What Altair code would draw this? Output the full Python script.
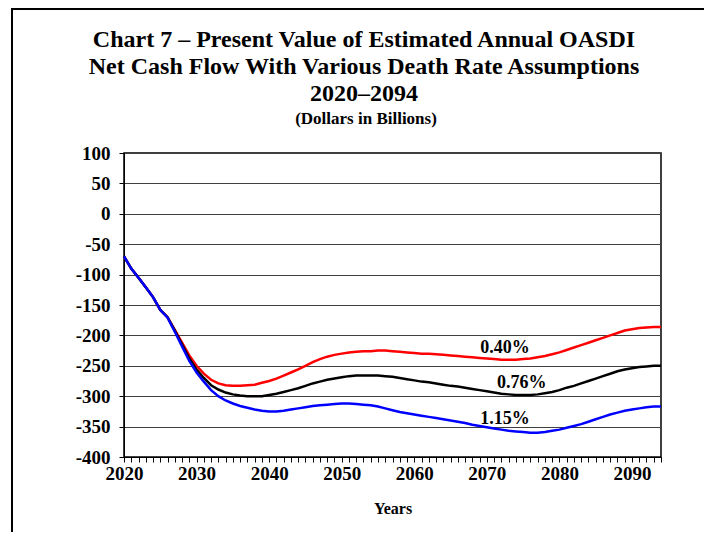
import altair as alt
import pandas as pd

years = list(range(2020, 2095))

red_040 = [
    -70, -90, -105, -121, -137, -158, -170, -191, -212, -233,
    -250, -263, -273, -279, -282, -283, -283, -282, -281, -278,
    -275, -271, -266, -261, -256, -250, -244, -239, -235, -232,
    -230, -228, -227, -226, -226, -225, -225, -226, -227, -228,
    -229, -230, -230, -231, -232, -233, -234, -235, -236, -237,
    -238, -239, -240, -240, -240, -239, -238, -236, -234, -231,
    -228, -224, -220, -216, -212, -208, -204, -200, -196, -192,
    -190, -188, -187, -186, -186,
]

black_076 = [
    -70, -90, -105, -121, -137, -158, -170, -192, -215, -238,
    -256, -270, -282, -289, -294, -297, -299, -300, -300, -300,
    -298, -296, -293, -290, -287, -283, -279, -276, -273, -271,
    -269, -267, -266, -266, -266, -266, -267, -268, -270, -272,
    -274, -276, -277, -279, -281, -283, -284, -286, -288, -290,
    -292, -294, -296, -297, -298, -298, -298, -297, -295, -293,
    -290, -286, -283, -279, -275, -271, -267, -263, -259, -256,
    -254, -252, -251, -250, -250,
]

blue_115 = [
    -70, -90, -105, -121, -137, -158, -171, -194, -218, -242,
    -261, -276, -290, -300, -307, -312, -316, -319, -322, -324,
    -325, -325, -324, -322, -320, -318, -316, -315, -314, -313,
    -312, -312, -313, -314, -315, -317, -320, -323, -326, -328,
    -330, -332, -334, -336, -338, -340, -342, -344, -347, -349,
    -351, -353, -355, -357, -358, -359, -360, -360, -359, -357,
    -355, -352, -349, -346, -342, -338, -334, -330, -327, -324,
    -322, -320, -318, -317, -317,
]

series_names = ["0.40%", "0.76%", "1.15%"]
series_colors = ["#FF0000", "#000000", "#0000FF"]

label_years = [2072.5, 2074.8, 2072.5]
label_values = [-221, -279, -337]

title_lines = [
    "Chart 7 \u2013 Present Value of Estimated Annual OASDI",
    "Net Cash Flow With Various Death Rate Assumptions",
    "2020\u20132094",
]
subtitle = "(Dollars in Billions)"
x_title = "Years"
y_ticks = list(range(-400, 101, 50))

FONT = "Liberation Serif"

rows = []
for name, vals in zip(series_names, [red_040, black_076, blue_115]):
    for y, v in zip(years, vals):
        rows.append({"year": y, "value": v, "series": name})
df = pd.DataFrame(rows)

x_scale = alt.Scale(domain=[2020, 2094], nice=False, zero=False)
y_scale = alt.Scale(domain=[-400, 100], nice=False)

x_axis = alt.Axis(values=years,
                  labelExpr="datum.value % 10 == 0 ? '' + datum.value : ''",
                  grid=False, tickSize=5, tickColor="black",
                  domainColor="black", labelFont=FONT, labelFontSize=19,
                  labelFontWeight="bold", labelColor="black",
                  labelPadding=2, labelFlush=False, labelOverlap=False,
                  labelBound=False,
                  title=x_title, titleFont=FONT, titleFontSize=16,
                  titleFontWeight="bold", titleColor="black",
                  titlePadding=17)
y_axis = alt.Axis(values=y_ticks, labelExpr="'' + datum.value",
                  grid=True, gridColor="#404040", gridWidth=1,
                  tickSize=5, tickColor="black", domainColor="black",
                  labelFont=FONT, labelFontSize=19, labelFontWeight="bold",
                  labelColor="black", labelPadding=9, labelOverlap=False,
                  labelBound=False, labelFlush=False, title=None)

lines = alt.Chart(df).mark_line(strokeWidth=2.5).encode(
    x=alt.X("year:Q", scale=x_scale, axis=x_axis),
    y=alt.Y("value:Q", scale=y_scale, axis=y_axis),
    color=alt.Color("series:N",
                    scale=alt.Scale(domain=series_names, range=series_colors),
                    legend=None),
)

lab_df = pd.DataFrame({"year": label_years, "value": label_values,
                       "label": series_names})
labels = alt.Chart(lab_df).mark_text(
    font=FONT, fontSize=18, fontWeight="bold", color="black",
    align="center", baseline="middle",
).encode(
    x=alt.X("year:Q", scale=x_scale, axis=x_axis),
    y=alt.Y("value:Q", scale=y_scale, axis=y_axis),
    text="label:N",
)

title_layers = []
title_y = [-113, -86, -59]
for i, line in enumerate(title_lines):
    t = alt.Chart(pd.DataFrame({"t": [line]})).mark_text(
        font=FONT, fontSize=24, fontWeight="bold", color="black",
        align="center", baseline="middle",
    ).encode(text="t:N", x=alt.value(240), y=alt.value(title_y[i]))
    title_layers.append(t)

sub = alt.Chart(pd.DataFrame({"t": [subtitle]})).mark_text(
    font=FONT, fontSize=17, fontWeight="bold", color="black",
    align="center", baseline="middle",
).encode(text="t:N", x=alt.value(242), y=alt.value(-34))

frame = alt.Chart(pd.DataFrame({"a": [0]})).mark_rect(
    fillOpacity=0, stroke="black", strokeWidth=2,
).encode(x=alt.value(-112), x2=alt.value(800), y=alt.value(-144), y2=alt.value(600))

chart = alt.layer(frame, lines, labels, *title_layers, sub).properties(
    width=537, height=304,
    background="white",
    autosize=alt.AutoSizeParams(type="none"),
    padding={"left": 116, "top": 145, "right": 43, "bottom": 75},
).configure_view(stroke="black", strokeWidth=1.5)

chart.save("out.html", embed_options={"renderer": "svg", "actions": False})
